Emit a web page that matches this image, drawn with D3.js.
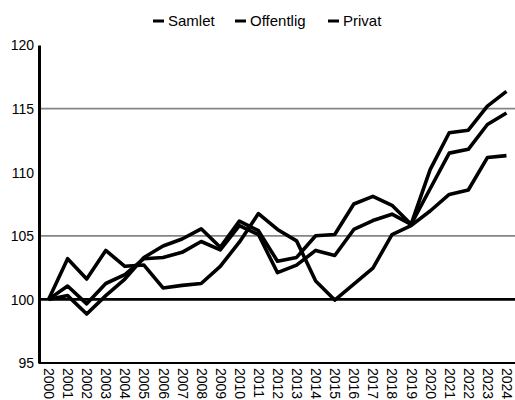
<!DOCTYPE html>
<html>
<head>
<meta charset="utf-8">
<script src="https://cdn.jsdelivr.net/npm/d3@7"></script>
<style>
  html, body { margin: 0; padding: 0; background: #fff; }
  svg { display: block; font-family: 'Liberation Sans', Arial, sans-serif; }
</style>
</head>
<body>
<div id="chart"></div>
<script>
const years = ['2000', '2001', '2002', '2003', '2004', '2005', '2006', '2007', '2008', '2009',
  '2010', '2011', '2012', '2013', '2014', '2015', '2016', '2017', '2018', '2019',
  '2020', '2021', '2022', '2023', '2024'];

const samlet = [100, 101.05, 99.65, 101.25, 101.95, 103.2, 103.3, 103.7, 104.55, 103.9,
  105.8, 105.1, 102.1, 102.7, 103.85, 103.45, 105.5, 106.2, 106.7, 105.9,
  108.7, 111.5, 111.8, 113.75, 114.65];
const offentlig = [100, 103.2, 101.6, 103.85, 102.6, 102.7, 100.9, 101.1, 101.25, 102.6,
  104.5, 106.75, 105.5, 104.6, 101.45, 99.95, 101.2, 102.45, 105.1, 105.8,
  106.95, 108.25, 108.6, 111.15, 111.3];
const privat = [100, 100.3, 98.85, 100.3, 101.6, 103.3, 104.2, 104.75, 105.55, 104.1,
  106.15, 105.4, 103.0, 103.3, 105.0, 105.1, 107.5, 108.1, 107.4, 105.9,
  110.2, 113.1, 113.3, 115.2, 116.35];

const seriesNames = ['Samlet', 'Offentlig', 'Privat'];
const yTicks = [95, 100, 105, 110, 115, 120];
const gridValues = [105, 115];
const baseValue = 100;

const width = 515;
const height = 400;
const margin = { top: 45, right: -1, bottom: 37, left: 39 };

const svg = d3.select('#chart')
  .append('svg')
  .attr('width', width)
  .attr('height', height);

/* Scales */
const xScale = d3.scalePoint()
  .domain(years)
  .range([margin.left, width - margin.right])
  .padding(0.5);

const yScale = d3.scaleLinear()
  .domain([95, 120])
  .range([height - margin.bottom, margin.top]);

/* Grid lines */
svg.append('g')
  .selectAll('line')
  .data(gridValues)
  .enter()
  .append('line')
  .attr('x1', margin.left)
  .attr('x2', width)
  .attr('y1', d => yScale(d))
  .attr('y2', d => yScale(d))
  .attr('stroke', '#858585')
  .attr('stroke-width', 1.8);

svg.append('line')
  .attr('x1', margin.left)
  .attr('x2', width)
  .attr('y1', yScale(baseValue))
  .attr('y2', yScale(baseValue))
  .attr('stroke', '#000')
  .attr('stroke-width', 2.6);

/* Axes */
const yAxis = d3.axisLeft(yScale).tickValues(yTicks).tickSize(0).tickPadding(5);
const yG = svg.append('g')
  .attr('transform', `translate(${margin.left}, 0)`)
  .call(yAxis);
yG.select('.domain').attr('stroke', '#000').attr('stroke-width', 3);
yG.selectAll('text')
  .attr('font-size', 14)
  .attr('fill', '#000')
  .attr('dy', '0.35em');

const xAxis = d3.axisBottom(xScale).tickSize(0).tickPadding(0);
const xG = svg.append('g')
  .attr('transform', `translate(0, ${yScale(95)})`)
  .call(xAxis);
xG.select('.domain')
  .attr('d', `M${margin.left},0H${width}`)
  .attr('stroke', '#000')
  .attr('stroke-width', 2);
xG.selectAll('text')
  .attr('font-size', 14)
  .attr('fill', '#000')
  .attr('text-anchor', 'start')
  .attr('dy', null)
  .attr('y', null)
  .attr('dominant-baseline', 'central')
  .attr('transform', 'translate(0, 5) rotate(90)');

/* Lines */
const data = [samlet, offentlig, privat];
const line = d3.line()
  .x((d, i) => xScale(years[i]))
  .y(d => yScale(d));

svg.append('g')
  .selectAll('path')
  .data(data)
  .enter()
  .append('path')
  .attr('d', d => line(d))
  .attr('fill', 'none')
  .attr('stroke', '#000')
  .attr('stroke-width', 3.6)
  .attr('stroke-linejoin', 'round');

/* Legend */
const legendX = [153, 235, 328];
const legend = svg.append('g')
  .selectAll('g')
  .data(seriesNames)
  .enter()
  .append('g')
  .attr('transform', (d, i) => `translate(${legendX[i]}, 21)`);

legend.append('rect')
  .attr('x', 0)
  .attr('y', -1.5)
  .attr('width', 11)
  .attr('height', 3)
  .attr('fill', '#000');

legend.append('text')
  .attr('x', 15)
  .attr('y', 0)
  .attr('dy', '0.35em')
  .attr('font-size', 15)
  .attr('fill', '#000')
  .text(d => d);
</script>
</body>
</html>
